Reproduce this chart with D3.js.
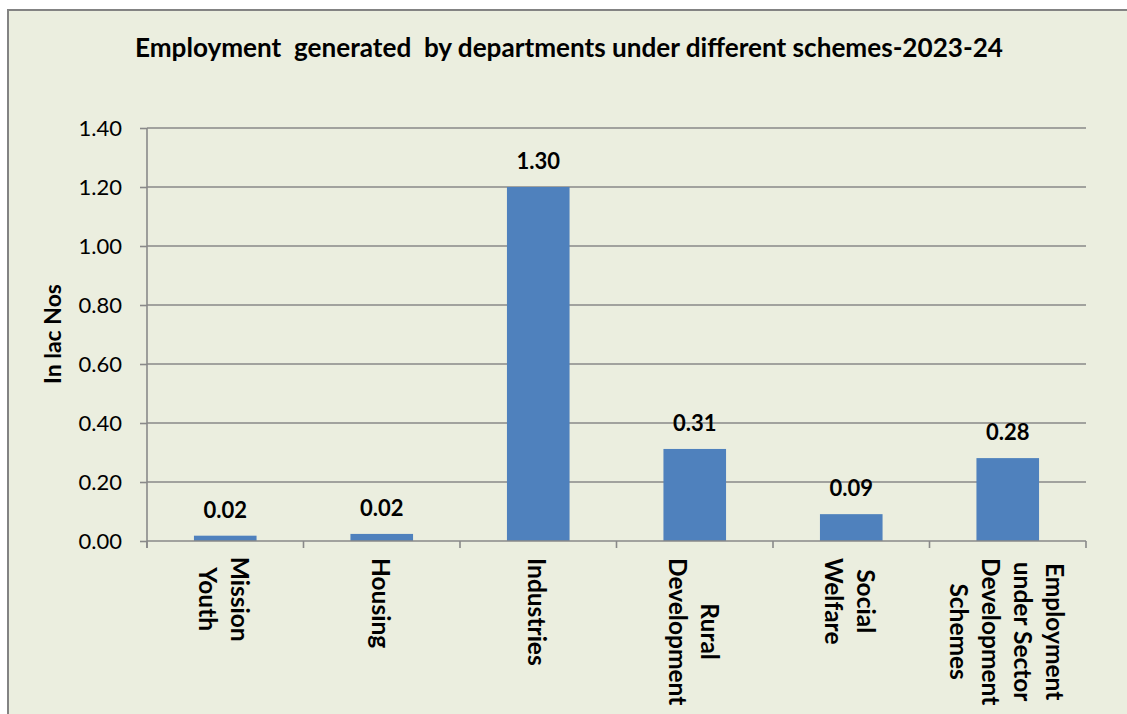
<!DOCTYPE html>
<html>
<head>
<meta charset="utf-8">
<script src="https://cdn.jsdelivr.net/npm/d3@7"></script>
<style>
  html, body { margin: 0; padding: 0; background: #ffffff; }
  svg { display: block; }
  text { font-family: Lato, "Open Sans", "DejaVu Sans", sans-serif; fill: #000; }
</style>
</head>
<body>
<svg id="chart" width="1127" height="714"></svg>
<script>
// ---- data ----
const chartTitle = "Employment\u00A0 generated\u00A0 by departments under different schemes-2023-24";
const yAxisTitle = "In lac Nos";
const categories = [
  ["Mission", "Youth"],
  ["Housing"],
  ["Industries"],
  ["Rural", "Development"],
  ["Social", "Welfare"],
  ["Employment", "under Sector", "Development", "Schemes"]
];
const barValues = [0.018, 0.024, 1.20, 0.312, 0.091, 0.281];
const dataLabels = ["0.02", "0.02", "1.30", "0.31", "0.09", "0.28"];
const yTicks = [0.00, 0.20, 0.40, 0.60, 0.80, 1.00, 1.20, 1.40];

// ---- layout ----
const svg = d3.select("#chart");
const W = 1127, H = 714;
const plot = { left: 147, right: 1086, top: 128, bottom: 541 };
const bg = "#ebeedf";
const gridColor = "#898989";
const barColor = "#4f81bd";

svg.append("rect").attr("x", 8).attr("y", 10).attr("width", W + 10).attr("height", H + 10)
  .attr("fill", bg).attr("stroke", "#838383").attr("stroke-width", 2);

const idx = categories.map((d, i) => i);
const x = d3.scaleBand().domain(idx).range([plot.left, plot.right]).paddingInner(0.6).paddingOuter(0.3);
const xOuter = d3.scaleBand().domain(idx).range([plot.left, plot.right]);
const y = d3.scaleLinear().domain([0, 1.4]).range([plot.bottom, plot.top]);

// gridlines
svg.append("g").selectAll("line").data(yTicks.filter(t => t > 0)).join("line")
  .attr("x1", plot.left).attr("x2", plot.right)
  .attr("y1", d => y(d)).attr("y2", d => y(d))
  .attr("stroke", gridColor).attr("stroke-width", 1.6);

// y axis
const yAxis = svg.append("g").attr("transform", `translate(${plot.left},0)`)
  .call(d3.axisLeft(y).tickValues(yTicks).tickFormat(d3.format(".2f")).tickSize(7).tickPadding(18));
yAxis.select(".domain").attr("stroke", gridColor).attr("stroke-width", 1.6)
  .attr("d", `M0,${plot.top}V${plot.bottom + 7}`);
yAxis.selectAll(".tick line").attr("stroke", gridColor).attr("stroke-width", 1.6);
yAxis.selectAll(".tick text").attr("font-size", 22).attr("font-family", "Lato, sans-serif").attr("fill", "#000");

// bars
svg.append("g").selectAll("rect").data(barValues).join("rect")
  .attr("x", (d, i) => x(i)).attr("width", x.bandwidth())
  .attr("y", d => y(d)).attr("height", d => y(0) - y(d))
  .attr("fill", barColor);

// x axis
const xAxisG = svg.append("g");
xAxisG.append("line").attr("x1", plot.left).attr("x2", plot.right)
  .attr("y1", plot.bottom).attr("y2", plot.bottom)
  .attr("stroke", gridColor).attr("stroke-width", 1.6);
const boundaries = idx.map(i => xOuter(i)).concat([plot.right]);
xAxisG.selectAll("line.tk").data(boundaries).join("line").attr("class", "tk")
  .attr("x1", d => d).attr("x2", d => d)
  .attr("y1", plot.bottom).attr("y2", plot.bottom + 7)
  .attr("stroke", gridColor).attr("stroke-width", 1.6);

// data labels
svg.append("g").selectAll("text").data(barValues).join("text")
  .attr("x", (d, i) => x(i) + x.bandwidth() / 2)
  .attr("y", d => y(d) - 18)
  .attr("text-anchor", "middle")
  .attr("font-size", 22).attr("font-weight", "bold")
  .text((d, i) => dataLabels[i]);

// category labels (rotated 90deg, reading top-to-bottom)
const catFs = 24.5, lineH = 32, labelTop = 558;
categories.forEach((lines, i) => {
  const cx = xOuter(i) + xOuter.bandwidth() / 2;
  const g = svg.append("g");
  const t = g.append("text").attr("font-size", catFs).attr("font-weight", "bold")
    .attr("text-anchor", "middle").attr("dominant-baseline", "central");
  const ts = lines.map((ln, j) => t.append("tspan").text(ln));
  const maxW = d3.max(ts.map(s => s.node().getComputedTextLength()));
  ts.forEach((s, j) => s.attr("x", maxW / 2).attr("y", (j - (lines.length - 1) / 2) * lineH));
  g.attr("transform", `translate(${cx},${labelTop}) rotate(90)`);
});

// y axis title
svg.append("text").attr("transform", `translate(52,334) rotate(-90)`)
  .attr("text-anchor", "middle").attr("dominant-baseline", "central")
  .attr("font-size", 23).attr("font-weight", "bold").text(yAxisTitle);

// title - condensed to fit width like the original
svg.append("text").attr("x", 135).attr("y", 57)
  .attr("font-size", 26).attr("font-weight", "bold")
  .attr("textLength", 868).attr("lengthAdjust", "spacingAndGlyphs")
  .text(chartTitle);
</script>
</body>
</html>
